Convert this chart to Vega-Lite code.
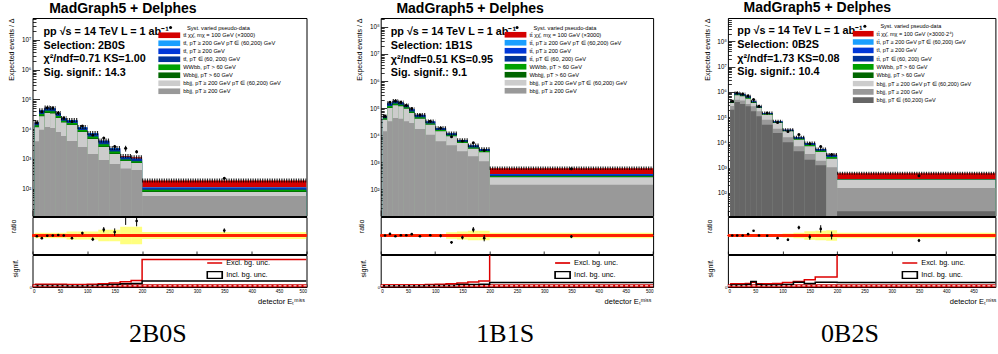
{
  "$schema": "https://vega.github.io/schema/vega-lite/v6.json",
  "background": "white",
  "padding": {"left": 6.5, "top": 0, "right": 0, "bottom": 0},
  "config": {
    "font": "Liberation Sans",
    "view": {"stroke": "black", "strokeWidth": 1},
    "axis": {"domain": false, "grid": false, "tickColor": "black", "tickWidth": 0.8, "labelColor": "black", "titleColor": "black", "labelFont": "Liberation Sans", "titleFont": "Liberation Sans", "titleFontWeight": "normal", "labelOverlap": false},
    "legend": {"labelFont": "Liberation Sans", "labelColor": "black", "padding": 0, "titlePadding": 0}
  },
  "datasets": {
    "names": [
      {"k": "sig", "n": "tt̄ χχ̄, mχ = 100 GeV (×3000)", "ord": 8},
      {"k": "sigb", "n": "tt̄ χχ̄, mχ = 100 GeV (×3000·2⁴)", "ord": 8},
      {"k": "ttmix", "n": "tt̄, pT ≥ 200 GeV pT ∈ (60,200) GeV", "ord": 7},
      {"k": "tthi", "n": "tt̄, pT ≥ 200 GeV", "ord": 6},
      {"k": "ttlo", "n": "tt̄, pT ∈ (60, 200) GeV", "ord": 5},
      {"k": "wwbb", "n": "WWbb, pT > 60 GeV", "ord": 4},
      {"k": "wbbjj", "n": "Wbbjj, pT > 60 GeV", "ord": 3},
      {"k": "lg", "n": "bbjj, pT ≥ 200 GeV pT ∈ (60,200) GeV", "ord": 2},
      {"k": "dg", "n": "bbjj, pT ≥ 200 GeV", "ord": 1},
      {"k": "dkg", "n": "bbjj, pT ∈ (60,200) GeV", "ord": 0}
    ],
    "stack": [
      {"p": "2B0S", "lo": 4, "hi": 12, "dg": 3880, "lg": 7620, "wbbjj": 545, "wwbb": 1360, "ttlo": 2180, "tthi": 820, "ttmix": 545, "sig": 5},
      {"p": "2B0S", "lo": 12, "hi": 22, "dg": 9550, "lg": 17450, "wbbjj": 1600, "wwbb": 3990, "ttlo": 6380, "tthi": 2390, "ttmix": 1590, "sig": 10},
      {"p": "2B0S", "lo": 22, "hi": 32, "dg": 11800, "lg": 23000, "wbbjj": 1850, "wwbb": 4630, "ttlo": 7400, "tthi": 2780, "ttmix": 1850, "sig": 15},
      {"p": "2B0S", "lo": 32, "hi": 42, "dg": 10900, "lg": 22600, "wbbjj": 1780, "wwbb": 4450, "ttlo": 7120, "tthi": 2670, "ttmix": 1780, "sig": 15},
      {"p": "2B0S", "lo": 42, "hi": 52, "dg": 7980, "lg": 15720, "wbbjj": 1110, "wwbb": 2780, "ttlo": 4440, "tthi": 1660, "ttmix": 1110, "sig": 15},
      {"p": "2B0S", "lo": 52, "hi": 62, "dg": 5860, "lg": 10840, "wbbjj": 700, "wwbb": 1750, "ttlo": 2800, "tthi": 1050, "ttmix": 700, "sig": 15},
      {"p": "2B0S", "lo": 62, "hi": 82, "dg": 3970, "lg": 9730, "wbbjj": 650, "wwbb": 1630, "ttlo": 2600, "tthi": 970, "ttmix": 650, "sig": 20},
      {"p": "2B0S", "lo": 82, "hi": 100, "dg": 2500, "lg": 5480, "wbbjj": 380, "wwbb": 950, "ttlo": 1510, "tthi": 570, "ttmix": 380, "sig": 20},
      {"p": "2B0S", "lo": 100, "hi": 120, "dg": 1450, "lg": 3190, "wbbjj": 275, "wwbb": 690, "ttlo": 1100, "tthi": 410, "ttmix": 275, "sig": 20},
      {"p": "2B0S", "lo": 120, "hi": 140, "dg": 912, "lg": 1590, "wbbjj": 160, "wwbb": 410, "ttlo": 650, "tthi": 250, "ttmix": 160, "sig": 20},
      {"p": "2B0S", "lo": 140, "hi": 160, "dg": 668, "lg": 780, "wbbjj": 86, "wwbb": 215, "ttlo": 345, "tthi": 130, "ttmix": 86, "sig": 20},
      {"p": "2B0S", "lo": 160, "hi": 180, "dg": 471, "lg": 372, "wbbjj": 33, "wwbb": 82, "ttlo": 130, "tthi": 50, "ttmix": 33, "sig": 80},
      {"p": "2B0S", "lo": 180, "hi": 200, "dg": 420, "lg": 302, "wbbjj": 31, "wwbb": 77, "ttlo": 123, "tthi": 46, "ttmix": 31, "sig": 90},
      {"p": "2B0S", "lo": 200, "hi": 500, "dg": 56, "lg": 20, "wbbjj": 5, "wwbb": 10, "ttlo": 9, "tthi": 6, "ttmix": 4, "sig": 75},
      {"p": "1B1S", "lo": 4, "hi": 12, "dg": 14060, "lg": 23640, "wbbjj": 1250, "wwbb": 3130, "ttlo": 5000, "tthi": 1870, "ttmix": 1250, "sig": 5},
      {"p": "1B1S", "lo": 12, "hi": 22, "dg": 32900, "lg": 68700, "wbbjj": 5400, "wwbb": 13500, "ttlo": 21600, "tthi": 8100, "ttmix": 5400, "sig": 10},
      {"p": "1B1S", "lo": 22, "hi": 32, "dg": 43500, "lg": 84500, "wbbjj": 6100, "wwbb": 15250, "ttlo": 24400, "tthi": 9150, "ttmix": 6100, "sig": 10},
      {"p": "1B1S", "lo": 32, "hi": 42, "dg": 41000, "lg": 76500, "wbbjj": 4750, "wwbb": 11880, "ttlo": 19000, "tthi": 7120, "ttmix": 4750, "sig": 10},
      {"p": "1B1S", "lo": 42, "hi": 52, "dg": 32900, "lg": 63100, "wbbjj": 3200, "wwbb": 8000, "ttlo": 12800, "tthi": 4800, "ttmix": 3200, "sig": 10},
      {"p": "1B1S", "lo": 52, "hi": 62, "dg": 28400, "lg": 38100, "wbbjj": 2680, "wwbb": 6700, "ttlo": 10720, "tthi": 4020, "ttmix": 2680, "sig": 10},
      {"p": "1B1S", "lo": 62, "hi": 82, "dg": 17060, "lg": 23940, "wbbjj": 1650, "wwbb": 4130, "ttlo": 6600, "tthi": 2470, "ttmix": 1650, "sig": 15},
      {"p": "1B1S", "lo": 82, "hi": 100, "dg": 10500, "lg": 14100, "wbbjj": 830, "wwbb": 2080, "ttlo": 3320, "tthi": 1240, "ttmix": 830, "sig": 15},
      {"p": "1B1S", "lo": 100, "hi": 120, "dg": 6010, "lg": 8040, "wbbjj": 455, "wwbb": 1140, "ttlo": 1820, "tthi": 680, "ttmix": 455, "sig": 15},
      {"p": "1B1S", "lo": 120, "hi": 140, "dg": 4280, "lg": 4910, "wbbjj": 267, "wwbb": 670, "ttlo": 1070, "tthi": 400, "ttmix": 267, "sig": 20},
      {"p": "1B1S", "lo": 140, "hi": 160, "dg": 2570, "lg": 2630, "wbbjj": 150, "wwbb": 380, "ttlo": 600, "tthi": 230, "ttmix": 150, "sig": 20},
      {"p": "1B1S", "lo": 160, "hi": 180, "dg": 1680, "lg": 1520, "wbbjj": 108, "wwbb": 270, "ttlo": 430, "tthi": 160, "ttmix": 108, "sig": 25},
      {"p": "1B1S", "lo": 180, "hi": 200, "dg": 1100, "lg": 1260, "wbbjj": 76, "wwbb": 190, "ttlo": 300, "tthi": 115, "ttmix": 76, "sig": 30},
      {"p": "1B1S", "lo": 200, "hi": 500, "dg": 150, "lg": 135, "wbbjj": 9, "wwbb": 21, "ttlo": 34, "tthi": 13, "ttmix": 9, "sig": 230},
      {"p": "0B2S", "lo": 4, "hi": 12, "dkg": 197000, "dg": 79000, "lg": 87000, "wbbjj": 6100, "wwbb": 15250, "ttlo": 24400, "tthi": 9150, "ttmix": 6100, "sigb": 10},
      {"p": "0B2S", "lo": 12, "hi": 22, "dkg": 398000, "dg": 92000, "lg": 243000, "wbbjj": 17100, "wwbb": 42750, "ttlo": 68400, "tthi": 25650, "ttmix": 17100, "sigb": 10},
      {"p": "0B2S", "lo": 22, "hi": 32, "dkg": 331000, "dg": 126000, "lg": 211000, "wbbjj": 15700, "wwbb": 39250, "ttlo": 62800, "tthi": 23550, "ttmix": 15700, "sigb": 10},
      {"p": "0B2S", "lo": 32, "hi": 42, "dkg": 269000, "dg": 62000, "lg": 206000, "wbbjj": 13100, "wwbb": 32750, "ttlo": 52400, "tthi": 19650, "ttmix": 13100, "sigb": 10},
      {"p": "0B2S", "lo": 42, "hi": 52, "dkg": 171000, "dg": 98000, "lg": 94000, "wbbjj": 6100, "wwbb": 15250, "ttlo": 24400, "tthi": 9150, "ttmix": 6100, "sigb": 10},
      {"p": "0B2S", "lo": 52, "hi": 62, "dkg": 108000, "dg": 63000, "lg": 59000, "wbbjj": 3900, "wwbb": 9750, "ttlo": 15600, "tthi": 5850, "ttmix": 3900, "sigb": 10},
      {"p": "0B2S", "lo": 62, "hi": 82, "dkg": 50400, "dg": 29000, "lg": 45600, "wbbjj": 2100, "wwbb": 5250, "ttlo": 8400, "tthi": 3150, "ttmix": 2100, "sigb": 15},
      {"p": "0B2S", "lo": 82, "hi": 100, "dkg": 23600, "dg": 11300, "lg": 23800, "wbbjj": 980, "wwbb": 2450, "ttlo": 3920, "tthi": 1470, "ttmix": 980, "sigb": 15},
      {"p": "0B2S", "lo": 100, "hi": 120, "dkg": 10100, "dg": 5860, "lg": 11640, "wbbjj": 430, "wwbb": 1075, "ttlo": 1720, "tthi": 645, "ttmix": 430, "sigb": 15},
      {"p": "0B2S", "lo": 120, "hi": 140, "dkg": 4470, "dg": 2560, "lg": 5770, "wbbjj": 316, "wwbb": 790, "ttlo": 1264, "tthi": 474, "ttmix": 316, "sigb": 20},
      {"p": "0B2S", "lo": 140, "hi": 160, "dkg": 2080, "dg": 1410, "lg": 3540, "wbbjj": 248, "wwbb": 620, "ttlo": 992, "tthi": 372, "ttmix": 248, "sigb": 20},
      {"p": "0B2S", "lo": 160, "hi": 180, "dkg": 1250, "dg": 650, "lg": 2290, "wbbjj": 131, "wwbb": 328, "ttlo": 524, "tthi": 196, "ttmix": 131, "sigb": 25},
      {"p": "0B2S", "lo": 180, "hi": 200, "dkg": 5, "dg": 1035, "lg": 1240, "wbbjj": 99, "wwbb": 248, "ttlo": 396, "tthi": 148, "ttmix": 99, "sigb": 30},
      {"p": "0B2S", "lo": 200, "hi": 500, "dkg": 19, "dg": 139, "lg": 178, "wbbjj": 2, "wwbb": 6, "ttlo": 8, "tthi": 4, "ttmix": 2, "sigb": 242}
    ],
    "obs": [
      {"p": "2B0S", "lo": 4, "hi": 12, "c": 8, "obs": 16440, "olo": 15930, "ohi": 16950, "r": 0.97, "rlo": 0.94, "rhi": 1.0, "blo": 0.9, "bhi": 1.1},
      {"p": "2B0S", "lo": 12, "hi": 22, "c": 17, "obs": 38660, "olo": 36940, "ohi": 40380, "r": 0.9, "rlo": 0.86, "rhi": 0.94, "blo": 0.9, "bhi": 1.1},
      {"p": "2B0S", "lo": 22, "hi": 32, "c": 27, "obs": 52770, "olo": 51170, "ohi": 54370, "r": 0.99, "rlo": 0.96, "rhi": 1.02, "blo": 0.9, "bhi": 1.1},
      {"p": "2B0S", "lo": 32, "hi": 42, "c": 37, "obs": 51300, "olo": 49760, "ohi": 52840, "r": 1.0, "rlo": 0.97, "rhi": 1.03, "blo": 0.9, "bhi": 1.1},
      {"p": "2B0S", "lo": 42, "hi": 52, "c": 47, "obs": 35500, "olo": 34460, "ohi": 36540, "r": 1.02, "rlo": 0.99, "rhi": 1.05, "blo": 0.9, "bhi": 1.1},
      {"p": "2B0S", "lo": 52, "hi": 62, "c": 57, "obs": 23700, "olo": 22990, "ohi": 24410, "r": 1.0, "rlo": 0.97, "rhi": 1.03, "blo": 0.9, "bhi": 1.1},
      {"p": "2B0S", "lo": 62, "hi": 82, "c": 72, "obs": 18180, "olo": 17370, "ohi": 18990, "r": 0.9, "rlo": 0.86, "rhi": 0.94, "blo": 0.85, "bhi": 1.15},
      {"p": "2B0S", "lo": 82, "hi": 100, "c": 91, "obs": 12820, "olo": 12230, "ohi": 13410, "r": 1.09, "rlo": 1.04, "rhi": 1.14, "blo": 0.85, "bhi": 1.15},
      {"p": "2B0S", "lo": 100, "hi": 120, "c": 110, "obs": 6360, "olo": 5840, "ohi": 6880, "r": 0.86, "rlo": 0.79, "rhi": 0.93, "blo": 0.85, "bhi": 1.15},
      {"p": "2B0S", "lo": 120, "hi": 140, "c": 130, "obs": 5040, "olo": 4630, "ohi": 5450, "r": 1.22, "rlo": 1.12, "rhi": 1.32, "blo": 0.78, "bhi": 1.22},
      {"p": "2B0S", "lo": 140, "hi": 160, "c": 150, "obs": 2610, "olo": 2290, "ohi": 2930, "r": 1.13, "rlo": 0.99, "rhi": 1.27, "blo": 0.78, "bhi": 1.22},
      {"p": "2B0S", "lo": 160, "hi": 180, "c": 170, "obs": 2250, "olo": 1750, "ohi": 2750, "r": 1.8, "rlo": 1.4, "rhi": 2.2, "blo": 0.67, "bhi": 1.33},
      {"p": "2B0S", "lo": 180, "hi": 200, "c": 190, "obs": 1740, "olo": 1520, "ohi": 1960, "r": 1.55, "rlo": 1.35, "rhi": 1.75, "blo": 0.67, "bhi": 1.33},
      {"p": "2B0S", "lo": 200, "hi": 500, "c": 350, "obs": 220, "olo": 205, "ohi": 235, "r": 1.19, "rlo": 1.11, "rhi": 1.27, "blo": 0.87, "bhi": 1.13},
      {"p": "1B1S", "lo": 4, "hi": 12, "c": 8, "obs": 50200, "olo": 49200, "ohi": 51200, "r": 1.0, "rlo": 0.98, "rhi": 1.02, "blo": 0.96, "bhi": 1.04},
      {"p": "1B1S", "lo": 12, "hi": 22, "c": 17, "obs": 164950, "olo": 161850, "ohi": 168050, "r": 1.06, "rlo": 1.04, "rhi": 1.08, "blo": 0.96, "bhi": 1.04},
      {"p": "1B1S", "lo": 22, "hi": 32, "c": 27, "obs": 183340, "olo": 179560, "ohi": 187120, "r": 0.97, "rlo": 0.95, "rhi": 0.99, "blo": 0.96, "bhi": 1.04},
      {"p": "1B1S", "lo": 32, "hi": 42, "c": 37, "obs": 166660, "olo": 163360, "ohi": 169960, "r": 1.01, "rlo": 0.99, "rhi": 1.03, "blo": 0.96, "bhi": 1.04},
      {"p": "1B1S", "lo": 42, "hi": 52, "c": 47, "obs": 129290, "olo": 126730, "ohi": 131850, "r": 1.01, "rlo": 0.99, "rhi": 1.03, "blo": 0.96, "bhi": 1.04},
      {"p": "1B1S", "lo": 52, "hi": 62, "c": 57, "obs": 97980, "olo": 96110, "ohi": 99850, "r": 1.05, "rlo": 1.03, "rhi": 1.07, "blo": 0.96, "bhi": 1.04},
      {"p": "1B1S", "lo": 62, "hi": 82, "c": 72, "obs": 55790, "olo": 54640, "ohi": 56940, "r": 0.97, "rlo": 0.95, "rhi": 0.99, "blo": 0.95, "bhi": 1.05},
      {"p": "1B1S", "lo": 82, "hi": 100, "c": 91, "obs": 33240, "olo": 32250, "ohi": 34230, "r": 1.01, "rlo": 0.98, "rhi": 1.04, "blo": 0.94, "bhi": 1.06},
      {"p": "1B1S", "lo": 100, "hi": 120, "c": 110, "obs": 18430, "olo": 17310, "ohi": 19550, "r": 0.99, "rlo": 0.93, "rhi": 1.05, "blo": 0.94, "bhi": 1.06},
      {"p": "1B1S", "lo": 120, "hi": 140, "c": 130, "obs": 8790, "olo": 8200, "ohi": 9380, "r": 0.74, "rlo": 0.69, "rhi": 0.79, "blo": 0.88, "bhi": 1.12},
      {"p": "1B1S", "lo": 140, "hi": 160, "c": 150, "obs": 6190, "olo": 5720, "ohi": 6660, "r": 0.92, "rlo": 0.85, "rhi": 0.99, "blo": 0.85, "bhi": 1.15},
      {"p": "1B1S", "lo": 160, "hi": 180, "c": 170, "obs": 5250, "olo": 4820, "ohi": 5680, "r": 1.22, "rlo": 1.12, "rhi": 1.32, "blo": 0.82, "bhi": 1.18},
      {"p": "1B1S", "lo": 180, "hi": 200, "c": 190, "obs": 2830, "olo": 2460, "ohi": 3200, "r": 0.9, "rlo": 0.78, "rhi": 1.02, "blo": 0.82, "bhi": 1.18},
      {"p": "1B1S", "lo": 200, "hi": 500, "c": 350, "obs": 577, "olo": 541, "ohi": 613, "r": 0.96, "rlo": 0.9, "rhi": 1.02, "blo": 0.9, "bhi": 1.1},
      {"p": "0B2S", "lo": 4, "hi": 12, "c": 8, "obs": 424000, "olo": 415500, "ohi": 432500, "r": 1.0, "rlo": 0.98, "rhi": 1.02, "blo": 0.96, "bhi": 1.04},
      {"p": "0B2S", "lo": 12, "hi": 22, "c": 17, "obs": 904000, "olo": 886000, "ohi": 922000, "r": 1.0, "rlo": 0.98, "rhi": 1.02, "blo": 0.96, "bhi": 1.04},
      {"p": "0B2S", "lo": 22, "hi": 32, "c": 27, "obs": 825000, "olo": 808500, "ohi": 841500, "r": 1.0, "rlo": 0.98, "rhi": 1.02, "blo": 0.96, "bhi": 1.04},
      {"p": "0B2S", "lo": 32, "hi": 42, "c": 37, "obs": 701000, "olo": 687000, "ohi": 715000, "r": 1.05, "rlo": 1.03, "rhi": 1.07, "blo": 0.96, "bhi": 1.04},
      {"p": "0B2S", "lo": 42, "hi": 52, "c": 47, "obs": 500330, "olo": 490330, "ohi": 510330, "r": 1.18, "rlo": 1.16, "rhi": 1.2, "blo": 0.96, "bhi": 1.04},
      {"p": "0B2S", "lo": 52, "hi": 62, "c": 57, "obs": 269000, "olo": 263600, "ohi": 274400, "r": 1.0, "rlo": 0.98, "rhi": 1.02, "blo": 0.96, "bhi": 1.04},
      {"p": "0B2S", "lo": 62, "hi": 82, "c": 72, "obs": 144555, "olo": 141655, "ohi": 147455, "r": 0.99, "rlo": 0.97, "rhi": 1.01, "blo": 0.95, "bhi": 1.05},
      {"p": "0B2S", "lo": 82, "hi": 100, "c": 91, "obs": 61660, "olo": 59600, "ohi": 63720, "r": 0.9, "rlo": 0.87, "rhi": 0.93, "blo": 0.94, "bhi": 1.06},
      {"p": "0B2S", "lo": 100, "hi": 120, "c": 110, "obs": 26810, "olo": 25210, "ohi": 28410, "r": 0.84, "rlo": 0.79, "rhi": 0.89, "blo": 0.92, "bhi": 1.08},
      {"p": "0B2S", "lo": 120, "hi": 140, "c": 130, "obs": 20770, "olo": 19650, "ohi": 21890, "r": 1.3, "rlo": 1.23, "rhi": 1.37, "blo": 0.9, "bhi": 1.1},
      {"p": "0B2S", "lo": 140, "hi": 160, "c": 150, "obs": 8960, "olo": 8010, "ohi": 9910, "r": 0.94, "rlo": 0.84, "rhi": 1.04, "blo": 0.84, "bhi": 1.16},
      {"p": "0B2S", "lo": 160, "hi": 180, "c": 170, "obs": 6910, "olo": 6140, "ohi": 7680, "r": 1.25, "rlo": 1.11, "rhi": 1.39, "blo": 0.82, "bhi": 1.18},
      {"p": "0B2S", "lo": 180, "hi": 200, "c": 190, "obs": 3300, "olo": 2810, "ohi": 3790, "r": 1.0, "rlo": 0.85, "rhi": 1.15, "blo": 0.8, "bhi": 1.2},
      {"p": "0B2S", "lo": 200, "hi": 500, "c": 350, "obs": 486, "olo": 450, "ohi": 522, "r": 0.81, "rlo": 0.75, "rhi": 0.87, "blo": 0.9, "bhi": 1.1}
    ],
    "signif": [
      {"p": "2B0S", "lo": 4, "hi": 12, "ex": 35, "inc": 20},
      {"p": "2B0S", "lo": 12, "hi": 22, "ex": 35, "inc": 20},
      {"p": "2B0S", "lo": 22, "hi": 32, "ex": 35, "inc": 20},
      {"p": "2B0S", "lo": 32, "hi": 42, "ex": 35, "inc": 20},
      {"p": "2B0S", "lo": 42, "hi": 52, "ex": 35, "inc": 20},
      {"p": "2B0S", "lo": 52, "hi": 62, "ex": 35, "inc": 20},
      {"p": "2B0S", "lo": 62, "hi": 82, "ex": 30, "inc": 15},
      {"p": "2B0S", "lo": 82, "hi": 100, "ex": 30, "inc": 15},
      {"p": "2B0S", "lo": 100, "hi": 120, "ex": 35, "inc": 18},
      {"p": "2B0S", "lo": 120, "hi": 140, "ex": 40, "inc": 25},
      {"p": "2B0S", "lo": 140, "hi": 160, "ex": 50, "inc": 30},
      {"p": "2B0S", "lo": 160, "hi": 180, "ex": 65, "inc": 40},
      {"p": "2B0S", "lo": 180, "hi": 200, "ex": 80, "inc": 45},
      {"p": "2B0S", "lo": 200, "hi": 500, "ex": 345, "inc": 75},
      {"p": "1B1S", "lo": 4, "hi": 12, "ex": 25, "inc": 15},
      {"p": "1B1S", "lo": 12, "hi": 22, "ex": 25, "inc": 15},
      {"p": "1B1S", "lo": 22, "hi": 32, "ex": 25, "inc": 15},
      {"p": "1B1S", "lo": 32, "hi": 42, "ex": 25, "inc": 15},
      {"p": "1B1S", "lo": 42, "hi": 52, "ex": 25, "inc": 15},
      {"p": "1B1S", "lo": 52, "hi": 62, "ex": 25, "inc": 15},
      {"p": "1B1S", "lo": 62, "hi": 82, "ex": 25, "inc": 15},
      {"p": "1B1S", "lo": 82, "hi": 100, "ex": 30, "inc": 18},
      {"p": "1B1S", "lo": 100, "hi": 120, "ex": 35, "inc": 20},
      {"p": "1B1S", "lo": 120, "hi": 140, "ex": 40, "inc": 20},
      {"p": "1B1S", "lo": 140, "hi": 160, "ex": 50, "inc": 30},
      {"p": "1B1S", "lo": 160, "hi": 180, "ex": 62, "inc": 30},
      {"p": "1B1S", "lo": 180, "hi": 200, "ex": 75, "inc": 35},
      {"p": "1B1S", "lo": 200, "hi": 500, "ex": 900, "inc": 55},
      {"p": "0B2S", "lo": 4, "hi": 12, "ex": 40, "inc": 25},
      {"p": "0B2S", "lo": 12, "hi": 22, "ex": 40, "inc": 25},
      {"p": "0B2S", "lo": 22, "hi": 32, "ex": 40, "inc": 25},
      {"p": "0B2S", "lo": 32, "hi": 42, "ex": 45, "inc": 30},
      {"p": "0B2S", "lo": 42, "hi": 52, "ex": 60, "inc": 70},
      {"p": "0B2S", "lo": 52, "hi": 62, "ex": 40, "inc": 30},
      {"p": "0B2S", "lo": 62, "hi": 82, "ex": 40, "inc": 25},
      {"p": "0B2S", "lo": 82, "hi": 100, "ex": 45, "inc": 25},
      {"p": "0B2S", "lo": 100, "hi": 120, "ex": 55, "inc": 30},
      {"p": "0B2S", "lo": 120, "hi": 140, "ex": 70, "inc": 60},
      {"p": "0B2S", "lo": 140, "hi": 160, "ex": 90, "inc": 45},
      {"p": "0B2S", "lo": 160, "hi": 180, "ex": 125, "inc": 60},
      {"p": "0B2S", "lo": 180, "hi": 200, "ex": 125, "inc": 60},
      {"p": "0B2S", "lo": 200, "hi": 500, "ex": 900, "inc": 55}
    ]
  },
  "hconcat": [
    {
      "title": {"text": "2B0S", "orient": "bottom", "anchor": "middle", "frame": "bounds", "font": "Liberation Serif", "fontSize": 26, "fontWeight": "normal", "baseline": "alphabetic", "offset": 36, "color": "black"},
      "spacing": 1,
      "bounds": "flush",
      "resolve": {"scale": {"x": "independent", "y": "independent", "color": "independent", "shape": "independent"}},
      "vconcat": [
        {
          "width": 274, "height": 198,
          "title": {"text": "MadGraph5 + Delphes", "anchor": "start", "frame": "group", "dx": 16.7, "offset": 0, "fontSize": 14, "fontWeight": "bold", "font": "Liberation Sans", "color": "black"},
          "layer": [
            {
              "data": {"name": "stack"},
              "transform": [
                {"filter": "datum.p === '2B0S'"},
                {"fold": ["dkg", "dg", "lg", "wbbjj", "wwbb", "ttlo", "tthi", "ttmix", "sig", "sigb"], "as": ["k", "v"]},
                {"filter": "isValid(datum.v)"},
                {"lookup": "k", "from": {"data": {"name": "names"}, "key": "k", "fields": ["n", "ord"]}},
                {"window": [{"op": "sum", "field": "v", "as": "cum"}], "groupby": ["lo"], "sort": [{"field": "ord", "order": "ascending"}], "frame": [null, 0]}
              ],
              "mark": {"type": "rect", "clip": true},
              "encoding": {
                "x": {"field": "lo", "type": "quantitative", "title": null, "scale": {"domain": [0, 500], "nice": false, "zero": false},
                  "axis": {"title": null, "labels": false, "values": [0,10,20,30,40,50,60,70,80,90,100,110,120,130,140,150,160,170,180,190,200,210,220,230,240,250,260,270,280,290,300,310,320,330,340,350,360,370,380,390,400,410,420,430,440,450,460,470,480,490,500],
                    "tickSize": {"condition": {"test": "datum.value % 50 === 0", "value": -6}, "value": -3}}},
                "x2": {"field": "hi"},
                "y": {"field": "cum", "type": "quantitative", "title": "Expected events / Δ", "scale": {"type": "log", "domain": [11.9, 55000000], "nice": false},
                  "axis": {"titleX": -20.8, "titleY": 0, "titleAngle": 270, "titleAlign": "right", "titleBaseline": "middle", "titleFontSize": 7,
                    "tickCount": 100,
                    "tickSize": {"condition": {"test": "abs(log(datum.value)/LN10 - round(log(datum.value)/LN10)) < 0.001", "value": -7}, "value": -3.5},
                    "labelExpr": "abs(log(datum.value)/LN10 - round(log(datum.value)/LN10)) < 0.001 ? '10' + substring('⁰¹²³⁴⁵⁶⁷⁸⁹', round(log(datum.value)/LN10), round(log(datum.value)/LN10) + 1) : ''",
                    "labelPadding": 8.6, "labelFontSize": 6.3, "labelBaseline": "middle"}},
                "y2": {"datum": 1},
                "color": {"field": "n", "type": "nominal",
                  "scale": {"domain": ["tt̄ χχ̄, mχ = 100 GeV (×3000)", "tt̄, pT ≥ 200 GeV pT ∈ (60,200) GeV", "tt̄, pT ≥ 200 GeV", "tt̄, pT ∈ (60, 200) GeV", "WWbb, pT > 60 GeV", "Wbbjj, pT > 60 GeV", "bbjj, pT ≥ 200 GeV pT ∈ (60,200) GeV", "bbjj, pT ≥ 200 GeV"],
                    "range": ["#d40000", "#1a9fff", "#0038d8", "#003399", "#00a000", "#006600", "#cccccc", "#999999"]},
                  "legend": {"orient": "none", "legendX": 125.7, "legendY": 14.3, "title": null, "symbolType": "M-1,-0.27L1,-0.27L1,0.27L-1,0.27Z", "symbolSize": 484, "symbolStrokeWidth": 0, "labelFontSize": 5.7, "labelOffset": 3, "labelLimit": 400, "clipHeight": 6, "rowPadding": 2}},
                "order": {"field": "ord", "type": "quantitative", "sort": "descending"}
              }
            },
            {
              "data": {"name": "stack"},
              "transform": [
                {"filter": "datum.p === '2B0S'"},
                {"fold": ["dkg", "dg", "lg", "wbbjj", "wwbb", "ttlo", "tthi", "ttmix", "sig", "sigb"], "as": ["k", "v"]},
                {"filter": "isValid(datum.v)"},
                {"aggregate": [{"op": "sum", "field": "v", "as": "tot"}], "groupby": ["lo", "hi"]}
              ],
              "mark": {"type": "rule", "color": "black", "strokeWidth": 4, "strokeDash": [1.2, 1.2], "opacity": 0.85, "clip": true},
              "encoding": {"x": {"field": "lo", "type": "quantitative", "title": null}, "x2": {"field": "hi"}, "y": {"field": "tot", "type": "quantitative", "title": "Expected events / Δ"}}
            },
            {
              "data": {"name": "obs"},
              "transform": [{"filter": "datum.p === '2B0S'"}],
              "mark": {"type": "rule", "color": "black", "strokeWidth": 1, "clip": true},
              "encoding": {"x": {"field": "c", "type": "quantitative", "title": null}, "y": {"field": "olo", "type": "quantitative", "title": "Expected events / Δ"}, "y2": {"field": "ohi"}}
            },
            {
              "data": {"name": "obs"},
              "transform": [{"filter": "datum.p === '2B0S'"}],
              "mark": {"type": "point", "filled": true, "size": 9, "color": "black", "opacity": 1, "clip": true},
              "encoding": {"x": {"field": "c", "type": "quantitative", "title": null}, "y": {"field": "obs", "type": "quantitative", "title": "Expected events / Δ"},
                "shape": {"datum": "Syst. varied pseudo-data", "type": "nominal", "scale": {"range": ["circle"]},
                  "legend": {"orient": "none", "legendX": 135.2, "legendY": 6.5, "title": null, "symbolSize": 9, "labelFontSize": 5.7, "labelOffset": 13.5, "clipHeight": 6}}}
            },
            {
              "data": {"values": [{}]},
              "mark": {"type": "text", "align": "left", "baseline": "alphabetic", "font": "Liberation Sans", "fontWeight": "bold", "fontSize": 10.8, "lineHeight": 13.9, "color": "black"},
              "encoding": {"x": {"datum": 20, "type": "quantitative", "title": null}, "y": {"datum": 15100000, "type": "quantitative", "title": "Expected events / Δ"},
                "text": {"value": ["pp  √s = 14 TeV  L = 1 ab⁻¹", "Selection: 2B0S", "χ²/ndf=0.71 KS=1.00", "Sig. signif.: 14.3"]}}
            }
          ]
        },
        {
          "width": 274, "height": 37,
          "data": {"name": "obs"},
          "transform": [{"filter": "datum.p === '2B0S'"}],
          "layer": [
            {
              "mark": {"type": "rect", "color": "#ffff00", "opacity": 0.5, "clip": true},
              "encoding": {
                "x": {"field": "lo", "type": "quantitative", "title": null, "scale": {"domain": [0, 500], "nice": false, "zero": false},
                  "axis": {"title": null, "labels": false, "values": [0,50,100,150,200,250,300,350,400,450,500], "tickSize": -3}},
                "x2": {"field": "hi"},
                "y": {"field": "blo", "type": "quantitative", "title": "ratio", "scale": {"domain": [0.3, 1.7], "nice": false, "zero": false},
                  "axis": {"titleX": -18.8, "titleY": 2, "titleAngle": 270, "titleAlign": "right", "titleBaseline": "middle", "titleFontSize": 7,
                    "values": [0.3,0.4,0.5,0.6,0.7,0.8,0.9,1,1.1,1.2,1.3,1.4,1.5,1.6,1.7],
                    "tickSize": {"condition": {"test": "round(datum.value*10) % 2 === 0", "value": -7}, "value": -3.5},
                    "labelExpr": "round(datum.value*10) % 2 === 0 ? (datum.value === 1 ? '1' : format(datum.value, '.1f')) : ''",
                    "labelPadding": 8, "labelFontSize": 4.2, "labelBaseline": "middle"}},
                "y2": {"field": "bhi"}
              }
            },
            {
              "mark": {"type": "rule", "color": "#ff2000", "strokeWidth": 1.3},
              "encoding": {"y": {"datum": 1, "type": "quantitative", "title": "ratio"}}
            },
            {
              "mark": {"type": "rule", "color": "black", "strokeWidth": 1, "clip": true},
              "encoding": {"x": {"field": "c", "type": "quantitative", "title": null}, "y": {"field": "rlo", "type": "quantitative", "title": "ratio"}, "y2": {"field": "rhi"}}
            },
            {
              "mark": {"type": "point", "filled": true, "size": 7, "color": "black", "opacity": 1, "clip": true},
              "encoding": {"x": {"field": "c", "type": "quantitative", "title": null}, "y": {"field": "r", "type": "quantitative", "title": "ratio"}}
            }
          ]
        },
        {
          "width": 274, "height": 32,
          "layer": [
            {
              "data": {"values": [{}]},
              "mark": {"type": "rule", "color": "#cc0000", "strokeWidth": 3},
              "encoding": {"y": {"datum": 15, "type": "quantitative", "title": "signif."}}
            },
            {
              "data": {"name": "signif"},
              "transform": [
                {"filter": "datum.p === '2B0S'"},
                {"fold": ["ex", "inc"], "as": ["s", "val"]},
                {"fold": ["lo", "hi"], "as": ["edge", "x"]}
              ],
              "mark": {"type": "line", "strokeWidth": 1.5, "clip": true},
              "encoding": {
                "x": {"field": "x", "type": "quantitative", "title": "detector Eₜᵐⁱˢˢ", "scale": {"domain": [0, 500], "nice": false, "zero": false},
                  "axis": {"titleX": 271.7, "titleY": 16.7, "titleAngle": 0, "titleAlign": "right", "titleBaseline": "alphabetic", "titleFontSize": 7.5,
                    "values": [0,50,100,150,200,250,300,350,400,450,500], "tickSize": -3, "labelPadding": 4, "labelFontSize": 4.5, "labelBaseline": "top"}},
                "y": {"field": "val", "type": "quantitative", "title": "signif.", "scale": {"domain": [0, 400], "nice": false},
                  "axis": {"titleX": -17.5, "titleY": 3.7, "titleAngle": 270, "titleAlign": "right", "titleBaseline": "middle", "titleFontSize": 7,
                    "values": [0,25,50,75,100,125,150,175,200,225,250,275,300,325,350,375,400],
                    "tickSize": {"condition": {"test": "datum.value % 50 === 0", "value": -6}, "value": -3},
                    "labelExpr": "datum.value % 50 === 0 && datum.value < 400 ? datum.label : ''",
                    "labelPadding": 7, "labelFontSize": 4.2, "labelBaseline": "middle"}},
                "color": {"field": "s", "type": "nominal", "scale": {"domain": ["ex", "inc"], "range": ["#dd0000", "black"]},
                  "legend": {"orient": "none", "legendX": 173.7, "legendY": 4, "title": null, "symbolSize": 225, "labelFontSize": 7.3, "labelOffset": 3, "clipHeight": 8, "rowPadding": 4,
                    "labelExpr": "datum.value === 'ex' ? 'Excl. bg. unc.' : 'Incl. bg. unc.'",
                    "encode": {"symbols": {"update": {
                      "shape": {"signal": "datum.value === 'inc' ? 'M-1,-0.47L1,-0.47L1,0.47L-1,0.47Z' : 'M-1,0L1,0'"},
                      "fill": {"signal": "datum.value === 'inc' ? 'white' : 'transparent'"},
                      "strokeWidth": {"value": 1.7}}}}}},
                "order": [{"field": "x", "type": "quantitative"}, {"field": "edge", "type": "nominal", "sort": "descending"}]
              }
            },
            {
              "data": {"values": [{}]},
              "mark": {"type": "rule", "color": "white", "strokeWidth": 1, "strokeDash": [3, 2]},
              "encoding": {"y": {"datum": 15, "type": "quantitative", "title": "signif."}}
            }
          ]
        }
      ]
    },
    {
      "title": {"text": "1B1S", "orient": "bottom", "anchor": "middle", "frame": "bounds", "font": "Liberation Serif", "fontSize": 26, "fontWeight": "normal", "baseline": "alphabetic", "offset": 36, "color": "black"},
      "spacing": 1,
      "bounds": "flush",
      "resolve": {"scale": {"x": "independent", "y": "independent", "color": "independent", "shape": "independent"}},
      "vconcat": [
        {
          "width": 272.4, "height": 198,
          "title": {"text": "MadGraph5 + Delphes", "anchor": "start", "frame": "group", "dx": 15.7, "offset": 0, "fontSize": 14, "fontWeight": "bold", "font": "Liberation Sans", "color": "black"},
          "layer": [
            {
              "data": {"name": "stack"},
              "transform": [
                {"filter": "datum.p === '1B1S'"},
                {"fold": ["dkg", "dg", "lg", "wbbjj", "wwbb", "ttlo", "tthi", "ttmix", "sig", "sigb"], "as": ["k", "v"]},
                {"filter": "isValid(datum.v)"},
                {"lookup": "k", "from": {"data": {"name": "names"}, "key": "k", "fields": ["n", "ord"]}},
                {"window": [{"op": "sum", "field": "v", "as": "cum"}], "groupby": ["lo"], "sort": [{"field": "ord", "order": "ascending"}], "frame": [null, 0]}
              ],
              "mark": {"type": "rect", "clip": true},
              "encoding": {
                "x": {"field": "lo", "type": "quantitative", "title": null, "scale": {"domain": [0, 500], "nice": false, "zero": false},
                  "axis": {"title": null, "labels": false, "values": [0,10,20,30,40,50,60,70,80,90,100,110,120,130,140,150,160,170,180,190,200,210,220,230,240,250,260,270,280,290,300,310,320,330,340,350,360,370,380,390,400,410,420,430,440,450,460,470,480,490,500],
                    "tickSize": {"condition": {"test": "datum.value % 50 === 0", "value": -6}, "value": -3}}},
                "x2": {"field": "hi"},
                "y": {"field": "cum", "type": "quantitative", "title": "Expected events / Δ", "scale": {"type": "log", "domain": [10.5, 213000000], "nice": false},
                  "axis": {"titleX": -20.8, "titleY": 0, "titleAngle": 270, "titleAlign": "right", "titleBaseline": "middle", "titleFontSize": 7,
                    "tickCount": 100,
                    "tickSize": {"condition": {"test": "abs(log(datum.value)/LN10 - round(log(datum.value)/LN10)) < 0.001", "value": -7}, "value": -3.5},
                    "labelExpr": "abs(log(datum.value)/LN10 - round(log(datum.value)/LN10)) < 0.001 ? '10' + substring('⁰¹²³⁴⁵⁶⁷⁸⁹', round(log(datum.value)/LN10), round(log(datum.value)/LN10) + 1) : ''",
                    "labelPadding": 8.6, "labelFontSize": 6.3, "labelBaseline": "middle"}},
                "y2": {"datum": 1},
                "color": {"field": "n", "type": "nominal",
                  "scale": {"domain": ["tt̄ χχ̄, mχ = 100 GeV (×3000)", "tt̄, pT ≥ 200 GeV pT ∈ (60,200) GeV", "tt̄, pT ≥ 200 GeV", "tt̄, pT ∈ (60, 200) GeV", "WWbb, pT > 60 GeV", "Wbbjj, pT > 60 GeV", "bbjj, pT ≥ 200 GeV pT ∈ (60,200) GeV", "bbjj, pT ≥ 200 GeV"],
                    "range": ["#d40000", "#1a9fff", "#0038d8", "#003399", "#00a000", "#006600", "#cccccc", "#999999"]},
                  "legend": {"orient": "none", "legendX": 123.7, "legendY": 13.7, "title": null, "symbolType": "M-1,-0.27L1,-0.27L1,0.27L-1,0.27Z", "symbolSize": 484, "symbolStrokeWidth": 0, "labelFontSize": 5.7, "labelOffset": 3, "labelLimit": 400, "clipHeight": 6, "rowPadding": 2}},
                "order": {"field": "ord", "type": "quantitative", "sort": "descending"}
              }
            },
            {
              "data": {"name": "stack"},
              "transform": [
                {"filter": "datum.p === '1B1S'"},
                {"fold": ["dkg", "dg", "lg", "wbbjj", "wwbb", "ttlo", "tthi", "ttmix", "sig", "sigb"], "as": ["k", "v"]},
                {"filter": "isValid(datum.v)"},
                {"aggregate": [{"op": "sum", "field": "v", "as": "tot"}], "groupby": ["lo", "hi"]}
              ],
              "mark": {"type": "rule", "color": "black", "strokeWidth": 3.5, "strokeDash": [1.2, 1.2], "opacity": 0.85, "clip": true},
              "encoding": {"x": {"field": "lo", "type": "quantitative", "title": null}, "x2": {"field": "hi"}, "y": {"field": "tot", "type": "quantitative", "title": "Expected events / Δ"}}
            },
            {
              "data": {"name": "obs"},
              "transform": [{"filter": "datum.p === '1B1S'"}],
              "mark": {"type": "rule", "color": "black", "strokeWidth": 1, "clip": true},
              "encoding": {"x": {"field": "c", "type": "quantitative", "title": null}, "y": {"field": "olo", "type": "quantitative", "title": "Expected events / Δ"}, "y2": {"field": "ohi"}}
            },
            {
              "data": {"name": "obs"},
              "transform": [{"filter": "datum.p === '1B1S'"}],
              "mark": {"type": "point", "filled": true, "size": 9, "color": "black", "opacity": 1, "clip": true},
              "encoding": {"x": {"field": "c", "type": "quantitative", "title": null}, "y": {"field": "obs", "type": "quantitative", "title": "Expected events / Δ"},
                "shape": {"datum": "Syst. varied pseudo-data", "type": "nominal", "scale": {"range": ["circle"]},
                  "legend": {"orient": "none", "legendX": 133.5, "legendY": 6.5, "title": null, "symbolSize": 9, "labelFontSize": 5.7, "labelOffset": 13.5, "clipHeight": 6}}}
            },
            {
              "data": {"values": [{}]},
              "mark": {"type": "text", "align": "left", "baseline": "alphabetic", "font": "Liberation Sans", "fontWeight": "bold", "fontSize": 10.8, "lineHeight": 13.9, "color": "black"},
              "encoding": {"x": {"datum": 18.4, "type": "quantitative", "title": null}, "y": {"datum": 51500000, "type": "quantitative", "title": "Expected events / Δ"},
                "text": {"value": ["pp  √s = 14 TeV  L = 1 ab⁻¹", "Selection: 1B1S", "χ²/ndf=0.51 KS=0.95", "Sig. signif.: 9.1"]}}
            }
          ]
        },
        {
          "width": 272.4, "height": 37,
          "data": {"name": "obs"},
          "transform": [{"filter": "datum.p === '1B1S'"}],
          "layer": [
            {
              "mark": {"type": "rect", "color": "#ffff00", "opacity": 0.5, "clip": true},
              "encoding": {
                "x": {"field": "lo", "type": "quantitative", "title": null, "scale": {"domain": [0, 500], "nice": false, "zero": false},
                  "axis": {"title": null, "labels": false, "values": [0,50,100,150,200,250,300,350,400,450,500], "tickSize": -3}},
                "x2": {"field": "hi"},
                "y": {"field": "blo", "type": "quantitative", "title": "ratio", "scale": {"domain": [0.3, 1.7], "nice": false, "zero": false},
                  "axis": {"titleX": -18.8, "titleY": 2, "titleAngle": 270, "titleAlign": "right", "titleBaseline": "middle", "titleFontSize": 7,
                    "values": [0.3,0.4,0.5,0.6,0.7,0.8,0.9,1,1.1,1.2,1.3,1.4,1.5,1.6,1.7],
                    "tickSize": {"condition": {"test": "round(datum.value*10) % 2 === 0", "value": -7}, "value": -3.5},
                    "labelExpr": "round(datum.value*10) % 2 === 0 ? (datum.value === 1 ? '1' : format(datum.value, '.1f')) : ''",
                    "labelPadding": 8, "labelFontSize": 4.2, "labelBaseline": "middle"}},
                "y2": {"field": "bhi"}
              }
            },
            {
              "mark": {"type": "rule", "color": "#ff2000", "strokeWidth": 1.3},
              "encoding": {"y": {"datum": 1, "type": "quantitative", "title": "ratio"}}
            },
            {
              "mark": {"type": "rule", "color": "black", "strokeWidth": 1, "clip": true},
              "encoding": {"x": {"field": "c", "type": "quantitative", "title": null}, "y": {"field": "rlo", "type": "quantitative", "title": "ratio"}, "y2": {"field": "rhi"}}
            },
            {
              "mark": {"type": "point", "filled": true, "size": 7, "color": "black", "opacity": 1, "clip": true},
              "encoding": {"x": {"field": "c", "type": "quantitative", "title": null}, "y": {"field": "r", "type": "quantitative", "title": "ratio"}}
            }
          ]
        },
        {
          "width": 272.4, "height": 32,
          "layer": [
            {
              "data": {"values": [{}]},
              "mark": {"type": "rule", "color": "#cc0000", "strokeWidth": 3},
              "encoding": {"y": {"datum": 15, "type": "quantitative", "title": "signif."}}
            },
            {
              "data": {"name": "signif"},
              "transform": [
                {"filter": "datum.p === '1B1S'"},
                {"fold": ["ex", "inc"], "as": ["s", "val"]},
                {"fold": ["lo", "hi"], "as": ["edge", "x"]}
              ],
              "mark": {"type": "line", "strokeWidth": 1.5, "clip": true},
              "encoding": {
                "x": {"field": "x", "type": "quantitative", "title": "detector Eₜᵐⁱˢˢ", "scale": {"domain": [0, 500], "nice": false, "zero": false},
                  "axis": {"titleX": 270, "titleY": 16.7, "titleAngle": 0, "titleAlign": "right", "titleBaseline": "alphabetic", "titleFontSize": 7.5,
                    "values": [0,50,100,150,200,250,300,350,400,450,500], "tickSize": -3, "labelPadding": 4, "labelFontSize": 4.5, "labelBaseline": "top"}},
                "y": {"field": "val", "type": "quantitative", "title": "signif.", "scale": {"domain": [0, 400], "nice": false},
                  "axis": {"titleX": -17.5, "titleY": 3.7, "titleAngle": 270, "titleAlign": "right", "titleBaseline": "middle", "titleFontSize": 7,
                    "values": [0,25,50,75,100,125,150,175,200,225,250,275,300,325,350,375,400],
                    "tickSize": {"condition": {"test": "datum.value % 50 === 0", "value": -6}, "value": -3},
                    "labelExpr": "datum.value % 50 === 0 && datum.value < 400 ? datum.label : ''",
                    "labelPadding": 7, "labelFontSize": 4.2, "labelBaseline": "middle"}},
                "color": {"field": "s", "type": "nominal", "scale": {"domain": ["ex", "inc"], "range": ["#dd0000", "black"]},
                  "legend": {"orient": "none", "legendX": 173.4, "legendY": 4, "title": null, "symbolSize": 225, "labelFontSize": 7.3, "labelOffset": 3, "clipHeight": 8, "rowPadding": 4,
                    "labelExpr": "datum.value === 'ex' ? 'Excl. bg. unc.' : 'Incl. bg. unc.'",
                    "encode": {"symbols": {"update": {
                      "shape": {"signal": "datum.value === 'inc' ? 'M-1,-0.47L1,-0.47L1,0.47L-1,0.47Z' : 'M-1,0L1,0'"},
                      "fill": {"signal": "datum.value === 'inc' ? 'white' : 'transparent'"},
                      "strokeWidth": {"value": 1.7}}}}}},
                "order": [{"field": "x", "type": "quantitative"}, {"field": "edge", "type": "nominal", "sort": "descending"}]
              }
            },
            {
              "data": {"values": [{}]},
              "mark": {"type": "rule", "color": "white", "strokeWidth": 1, "strokeDash": [3, 2]},
              "encoding": {"y": {"datum": 15, "type": "quantitative", "title": "signif."}}
            }
          ]
        }
      ]
    },
    {
      "title": {"text": "0B2S", "orient": "bottom", "anchor": "middle", "frame": "bounds", "font": "Liberation Serif", "fontSize": 26, "fontWeight": "normal", "baseline": "alphabetic", "offset": 36, "color": "black"},
      "spacing": 1,
      "bounds": "flush",
      "resolve": {"scale": {"x": "independent", "y": "independent", "color": "independent", "shape": "independent"}},
      "vconcat": [
        {
          "width": 267.5, "height": 198,
          "title": {"text": "MadGraph5 + Delphes", "anchor": "start", "frame": "group", "dx": 15.7, "offset": 0, "fontSize": 14, "fontWeight": "bold", "font": "Liberation Sans", "color": "black"},
          "layer": [
            {
              "data": {"name": "stack"},
              "transform": [
                {"filter": "datum.p === '0B2S'"},
                {"fold": ["dkg", "dg", "lg", "wbbjj", "wwbb", "ttlo", "tthi", "ttmix", "sig", "sigb"], "as": ["k", "v"]},
                {"filter": "isValid(datum.v)"},
                {"lookup": "k", "from": {"data": {"name": "names"}, "key": "k", "fields": ["n", "ord"]}},
                {"window": [{"op": "sum", "field": "v", "as": "cum"}], "groupby": ["lo"], "sort": [{"field": "ord", "order": "ascending"}], "frame": [null, 0]}
              ],
              "mark": {"type": "rect", "clip": true},
              "encoding": {
                "x": {"field": "lo", "type": "quantitative", "title": null, "scale": {"domain": [0, 490], "nice": false, "zero": false},
                  "axis": {"title": null, "labels": false, "values": [0,10,20,30,40,50,60,70,80,90,100,110,120,130,140,150,160,170,180,190,200,210,220,230,240,250,260,270,280,290,300,310,320,330,340,350,360,370,380,390,400,410,420,430,440,450,460,470,480,490],
                    "tickSize": {"condition": {"test": "datum.value % 50 === 0", "value": -6}, "value": -3}}},
                "x2": {"field": "hi"},
                "y": {"field": "cum", "type": "quantitative", "title": "Expected events / Δ", "scale": {"type": "log", "domain": [12.3, 836000000], "nice": false},
                  "axis": {"titleX": -20.8, "titleY": 0, "titleAngle": 270, "titleAlign": "right", "titleBaseline": "middle", "titleFontSize": 7,
                    "tickCount": 100,
                    "tickSize": {"condition": {"test": "abs(log(datum.value)/LN10 - round(log(datum.value)/LN10)) < 0.001", "value": -7}, "value": -3.5},
                    "labelExpr": "abs(log(datum.value)/LN10 - round(log(datum.value)/LN10)) < 0.001 ? '10' + substring('⁰¹²³⁴⁵⁶⁷⁸⁹', round(log(datum.value)/LN10), round(log(datum.value)/LN10) + 1) : ''",
                    "labelPadding": 8.6, "labelFontSize": 6.3, "labelBaseline": "middle"}},
                "y2": {"datum": 1},
                "color": {"field": "n", "type": "nominal",
                  "scale": {"domain": ["tt̄ χχ̄, mχ = 100 GeV (×3000·2⁴)", "tt̄, pT ≥ 200 GeV pT ∈ (60,200) GeV", "tt̄, pT ≥ 200 GeV", "tt̄, pT ∈ (60, 200) GeV", "WWbb, pT > 60 GeV", "Wbbjj, pT > 60 GeV", "bbjj, pT ≥ 200 GeV pT ∈ (60,200) GeV", "bbjj, pT ≥ 200 GeV", "bbjj, pT ∈ (60,200) GeV"],
                    "range": ["#d40000", "#1a9fff", "#0038d8", "#003399", "#00a000", "#006600", "#cccccc", "#999999", "#666666"]},
                  "legend": {"orient": "none", "legendX": 124.7, "legendY": 12.7, "title": null, "symbolType": "M-1,-0.27L1,-0.27L1,0.27L-1,0.27Z", "symbolSize": 441, "symbolStrokeWidth": 0, "labelFontSize": 5.5, "labelOffset": 3, "labelLimit": 400, "clipHeight": 6, "rowPadding": 1.3}},
                "order": {"field": "ord", "type": "quantitative", "sort": "descending"}
              }
            },
            {
              "data": {"name": "stack"},
              "transform": [
                {"filter": "datum.p === '0B2S'"},
                {"fold": ["dkg", "dg", "lg", "wbbjj", "wwbb", "ttlo", "tthi", "ttmix", "sig", "sigb"], "as": ["k", "v"]},
                {"filter": "isValid(datum.v)"},
                {"aggregate": [{"op": "sum", "field": "v", "as": "tot"}], "groupby": ["lo", "hi"]}
              ],
              "mark": {"type": "rule", "color": "black", "strokeWidth": 3, "strokeDash": [1.2, 1.2], "opacity": 0.85, "clip": true},
              "encoding": {"x": {"field": "lo", "type": "quantitative", "title": null}, "x2": {"field": "hi"}, "y": {"field": "tot", "type": "quantitative", "title": "Expected events / Δ"}}
            },
            {
              "data": {"name": "obs"},
              "transform": [{"filter": "datum.p === '0B2S'"}],
              "mark": {"type": "rule", "color": "black", "strokeWidth": 1, "clip": true},
              "encoding": {"x": {"field": "c", "type": "quantitative", "title": null}, "y": {"field": "olo", "type": "quantitative", "title": "Expected events / Δ"}, "y2": {"field": "ohi"}}
            },
            {
              "data": {"name": "obs"},
              "transform": [{"filter": "datum.p === '0B2S'"}],
              "mark": {"type": "point", "filled": true, "size": 9, "color": "black", "opacity": 1, "clip": true},
              "encoding": {"x": {"field": "c", "type": "quantitative", "title": null}, "y": {"field": "obs", "type": "quantitative", "title": "Expected events / Δ"},
                "shape": {"datum": "Syst. varied pseudo-data", "type": "nominal", "scale": {"range": ["circle"]},
                  "legend": {"orient": "none", "legendX": 134.2, "legendY": 5.3, "title": null, "symbolSize": 9, "labelFontSize": 5.5, "labelOffset": 12.8, "clipHeight": 6}}}
            },
            {
              "data": {"values": [{}]},
              "mark": {"type": "text", "align": "left", "baseline": "alphabetic", "font": "Liberation Sans", "fontWeight": "bold", "fontSize": 10.8, "lineHeight": 13.9, "color": "black"},
              "encoding": {"x": {"datum": 17.2, "type": "quantitative", "title": null}, "y": {"datum": 200000000, "type": "quantitative", "title": "Expected events / Δ"},
                "text": {"value": ["pp  √s = 14 TeV  L = 1 ab⁻¹", "Selection: 0B2S", "χ²/ndf=1.73 KS=0.08", "Sig. signif.: 10.4"]}}
            }
          ]
        },
        {
          "width": 267.5, "height": 37,
          "data": {"name": "obs"},
          "transform": [{"filter": "datum.p === '0B2S'"}],
          "layer": [
            {
              "mark": {"type": "rect", "color": "#ffff00", "opacity": 0.5, "clip": true},
              "encoding": {
                "x": {"field": "lo", "type": "quantitative", "title": null, "scale": {"domain": [0, 490], "nice": false, "zero": false},
                  "axis": {"title": null, "labels": false, "values": [0,50,100,150,200,250,300,350,400,450], "tickSize": -3}},
                "x2": {"field": "hi"},
                "y": {"field": "blo", "type": "quantitative", "title": "ratio", "scale": {"domain": [0.3, 1.7], "nice": false, "zero": false},
                  "axis": {"titleX": -18.8, "titleY": 2, "titleAngle": 270, "titleAlign": "right", "titleBaseline": "middle", "titleFontSize": 7,
                    "values": [0.3,0.4,0.5,0.6,0.7,0.8,0.9,1,1.1,1.2,1.3,1.4,1.5,1.6,1.7],
                    "tickSize": {"condition": {"test": "round(datum.value*10) % 2 === 0", "value": -7}, "value": -3.5},
                    "labelExpr": "round(datum.value*10) % 2 === 0 ? (datum.value === 1 ? '1' : format(datum.value, '.1f')) : ''",
                    "labelPadding": 8, "labelFontSize": 4.2, "labelBaseline": "middle"}},
                "y2": {"field": "bhi"}
              }
            },
            {
              "mark": {"type": "rule", "color": "#ff2000", "strokeWidth": 1.3},
              "encoding": {"y": {"datum": 1, "type": "quantitative", "title": "ratio"}}
            },
            {
              "mark": {"type": "rule", "color": "black", "strokeWidth": 1, "clip": true},
              "encoding": {"x": {"field": "c", "type": "quantitative", "title": null}, "y": {"field": "rlo", "type": "quantitative", "title": "ratio"}, "y2": {"field": "rhi"}}
            },
            {
              "mark": {"type": "point", "filled": true, "size": 7, "color": "black", "opacity": 1, "clip": true},
              "encoding": {"x": {"field": "c", "type": "quantitative", "title": null}, "y": {"field": "r", "type": "quantitative", "title": "ratio"}}
            }
          ]
        },
        {
          "width": 267.5, "height": 32,
          "layer": [
            {
              "data": {"values": [{}]},
              "mark": {"type": "rule", "color": "#cc0000", "strokeWidth": 3},
              "encoding": {"y": {"datum": 15, "type": "quantitative", "title": "signif."}}
            },
            {
              "data": {"name": "signif"},
              "transform": [
                {"filter": "datum.p === '0B2S'"},
                {"fold": ["ex", "inc"], "as": ["s", "val"]},
                {"fold": ["lo", "hi"], "as": ["edge", "x"]}
              ],
              "mark": {"type": "line", "strokeWidth": 1.5, "clip": true},
              "encoding": {
                "x": {"field": "x", "type": "quantitative", "title": "detector Eₜᵐⁱˢˢ", "scale": {"domain": [0, 490], "nice": false, "zero": false},
                  "axis": {"titleX": 268, "titleY": 16.7, "titleAngle": 0, "titleAlign": "right", "titleBaseline": "alphabetic", "titleFontSize": 7.5,
                    "values": [0,50,100,150,200,250,300,350,400,450], "tickSize": -3, "labelPadding": 4, "labelFontSize": 4.5, "labelBaseline": "top"}},
                "y": {"field": "val", "type": "quantitative", "title": "signif.", "scale": {"domain": [0, 400], "nice": false},
                  "axis": {"titleX": -17.5, "titleY": 3.7, "titleAngle": 270, "titleAlign": "right", "titleBaseline": "middle", "titleFontSize": 7,
                    "values": [0,25,50,75,100,125,150,175,200,225,250,275,300,325,350,375,400],
                    "tickSize": {"condition": {"test": "datum.value % 50 === 0", "value": -6}, "value": -3},
                    "labelExpr": "datum.value % 50 === 0 && datum.value < 400 ? datum.label : ''",
                    "labelPadding": 7, "labelFontSize": 4.2, "labelBaseline": "middle"}},
                "color": {"field": "s", "type": "nominal", "scale": {"domain": ["ex", "inc"], "range": ["#dd0000", "black"]},
                  "legend": {"orient": "none", "legendX": 173.4, "legendY": 4, "title": null, "symbolSize": 225, "labelFontSize": 7.3, "labelOffset": 3, "clipHeight": 8, "rowPadding": 4,
                    "labelExpr": "datum.value === 'ex' ? 'Excl. bg. unc.' : 'Incl. bg. unc.'",
                    "encode": {"symbols": {"update": {
                      "shape": {"signal": "datum.value === 'inc' ? 'M-1,-0.47L1,-0.47L1,0.47L-1,0.47Z' : 'M-1,0L1,0'"},
                      "fill": {"signal": "datum.value === 'inc' ? 'white' : 'transparent'"},
                      "strokeWidth": {"value": 1.7}}}}}},
                "order": [{"field": "x", "type": "quantitative"}, {"field": "edge", "type": "nominal", "sort": "descending"}]
              }
            },
            {
              "data": {"values": [{}]},
              "mark": {"type": "rule", "color": "white", "strokeWidth": 1, "strokeDash": [3, 2]},
              "encoding": {"y": {"datum": 15, "type": "quantitative", "title": "signif."}}
            }
          ]
        }
      ]
    }
  ],
  "spacing": 46.2,
  "resolve": {"scale": {"x": "independent", "y": "independent", "color": "independent", "shape": "independent"}}
}
